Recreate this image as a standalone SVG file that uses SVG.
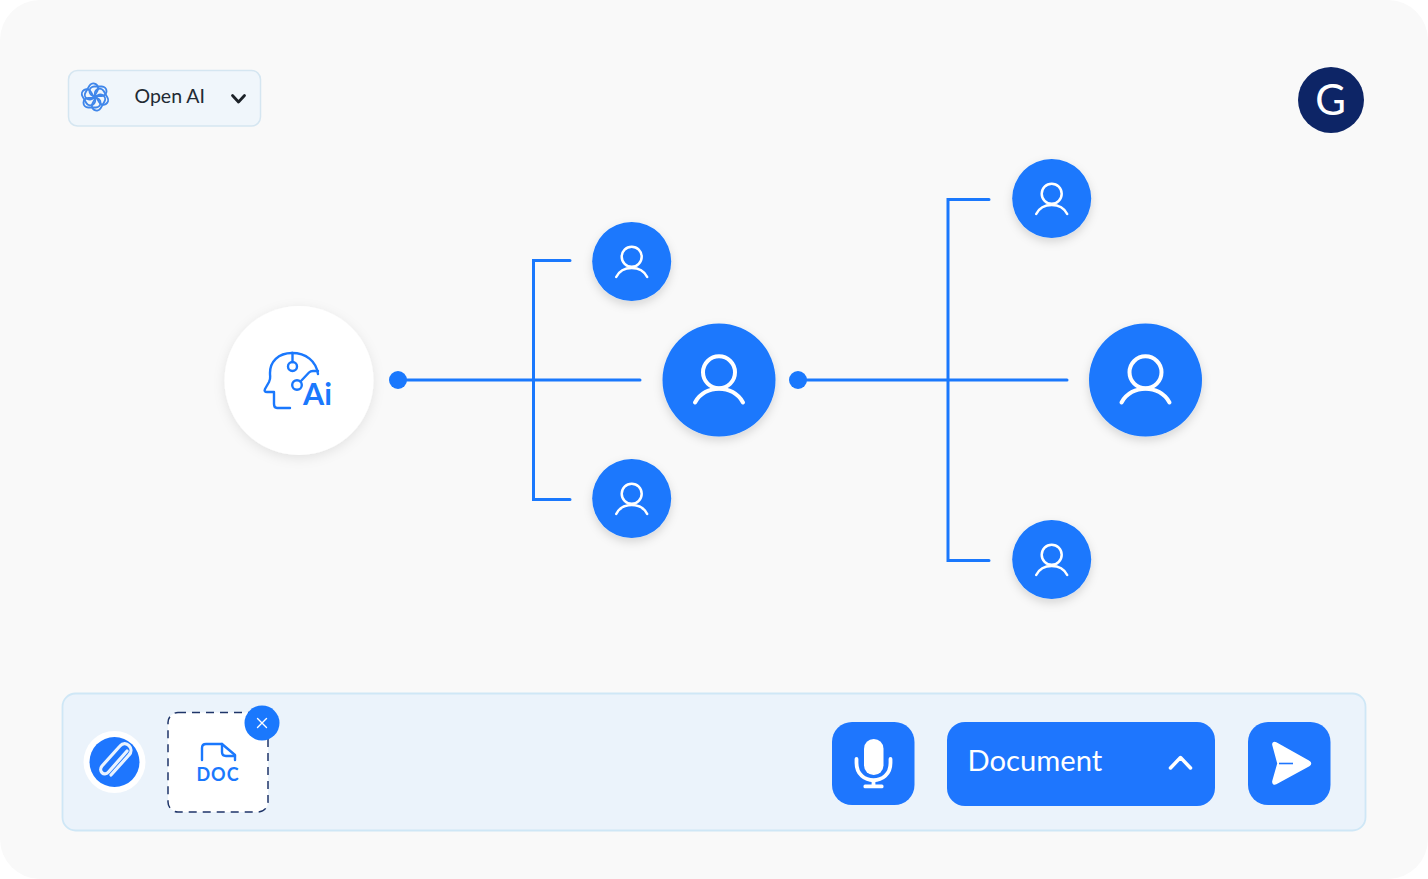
<svg xmlns="http://www.w3.org/2000/svg" width="1428" height="879" viewBox="0 0 1428 879">
<style>
.line{fill:none;stroke:#1a78fd;stroke-width:3;stroke-linecap:round;stroke-linejoin:miter}
.dot{fill:#1a78fd}
.pers{fill:#1a78fd;filter:url(#sh)}
.ic{fill:none;stroke:#fff;stroke-linecap:round}
.bl{fill:none;stroke:#1a78fd;stroke-width:2.4;stroke-linecap:round;stroke-linejoin:round}
.btn{fill:#1e76fe}
text{font-family:"Lato","Liberation Sans",sans-serif}
</style>
<defs>
<filter id="sh" x="-30%" y="-30%" width="160%" height="160%"><feDropShadow dx="0" dy="4" stdDeviation="5" flood-color="#000" flood-opacity=".14"/></filter>
<filter id="sh2" x="-30%" y="-30%" width="160%" height="160%"><feDropShadow dx="0" dy="3" stdDeviation="6" flood-color="#000" flood-opacity=".09"/></filter>
<g id="ps"><circle cx="0" cy="-4.700" r="10"/><path d="M-15.500 15.500C-9.500 3.500 9.500 3.500 15.500 15.500"/></g>
<g id="pl"><circle cx="0" cy="-7.700" r="16"/><path d="M-24 22.500C-14 4 14 4 24 22.500"/></g>
<rect id="knot" x="-11.500" y="1" width="17" height="9.500" rx="4.700"/>
</defs>
<rect width="1428" height="879" fill="#fff"/>
<rect width="1428" height="879" rx="40" fill="#f9f9f9"/>

<g id="model-select">
<rect x="68.500" y="70.500" width="192" height="55.500" rx="9" fill="#f0f6fb" stroke="#d5e6f1" stroke-width="1.500"/>
<g fill="none" stroke="#3f86ea" stroke-width="1.900" transform="translate(95 97)">
<use href="#knot"/>
<use href="#knot" transform="rotate(60)"/>
<use href="#knot" transform="rotate(120)"/>
<use href="#knot" transform="rotate(180)"/>
<use href="#knot" transform="rotate(240)"/>
<use href="#knot" transform="rotate(300)"/>
</g>
<text x="134.500" y="103" font-size="19.500" fill="#222a33">Open AI</text>
<path d="M232.500 95.500L238.500 102L244.500 95.500" fill="none" stroke="#1c2228" stroke-width="2.800" stroke-linecap="round" stroke-linejoin="round"/>
</g>

<g id="avatar">
<circle cx="1331" cy="100" r="33" fill="#0d2566"/>
<text x="1330.500" y="114.500" font-size="42" fill="#fff" text-anchor="middle">G</text>
</g>

<g id="connectors">
<circle class="dot" cx="398" cy="380" r="9"/>
<path class="line" d="M398 380H640M570 260.500H533.500V499.500H570"/>
<circle class="dot" cx="798" cy="380" r="9"/>
<path class="line" d="M798 380H1067M989 199.500H948V560.500H989"/>
</g>

<g id="ai-node">
<circle cx="299" cy="380.500" r="74.500" fill="#fff" filter="url(#sh2)"/>
<path class="bl" d="M292 353C278 353 270 362 270 373C270 378 271 378 269 382L265 389C264 391 265 392 267 392H274V404C274 407 275 408 277 408H290"/>
<path class="bl" d="M292 353C306 353 316 361 318 374"/>
<path class="bl" d="M292.500 353V362"/>
<circle class="bl" cx="292.500" cy="366.500" r="4.500"/>
<circle class="bl" cx="297" cy="385" r="4.800"/>
<path class="bl" d="M300.500 381.500L309 372.500C310 371.500 311 371 313 371H318"/>
<text x="303" y="404.500" font-size="30.500" font-weight="700" fill="#1a78fd">Ai</text>
</g>

<g id="node-a1"><circle class="pers" cx="631.700" cy="261.500" r="39.500"/><use href="#ps" class="ic" stroke-width="2.500" x="631.700" y="261.500"/></g>
<g id="node-a2"><circle class="pers" cx="631.700" cy="498.500" r="39.500"/><use href="#ps" class="ic" stroke-width="2.500" x="631.700" y="498.500"/></g>
<g id="node-a3"><circle class="pers" cx="719" cy="380" r="56.500"/><use href="#pl" class="ic" stroke-width="4" x="719" y="380"/></g>
<g id="node-b1"><circle class="pers" cx="1051.700" cy="198.500" r="39.500"/><use href="#ps" class="ic" stroke-width="2.500" x="1051.700" y="198.500"/></g>
<g id="node-b2"><circle class="pers" cx="1051.700" cy="559.500" r="39.500"/><use href="#ps" class="ic" stroke-width="2.500" x="1051.700" y="559.500"/></g>
<g id="node-b3"><circle class="pers" cx="1145.500" cy="380" r="56.500"/><use href="#pl" class="ic" stroke-width="4" x="1145.500" y="380"/></g>

<g id="input-bar">
<rect x="62.500" y="693.500" width="1303" height="137" rx="13" fill="#ebf3fb" stroke="#cfe7f6" stroke-width="1.800"/>
</g>

<g id="attach">
<circle cx="114.500" cy="762" r="31" fill="#fff"/>
<circle cx="114.500" cy="762" r="25" fill="#1e76fe"/>
<path d="M127 751L108.500 772C104 777 98 771 102 766L120 746C126 739 135 749 129 755L111 775" fill="none" stroke="#e9f3ff" stroke-width="3.200" stroke-linecap="round" stroke-linejoin="round"/>
</g>

<g id="doc-chip">
<rect x="168" y="712.500" width="100" height="99.500" rx="10" fill="#fff" stroke="#1f3569" stroke-width="1.500" stroke-dasharray="8 6"/>
<path class="bl" d="M202 760V748C202 745.500 203.500 744 206 744H222L235 755V760"/>
<path class="bl" d="M222 744V752C222 755 223 756 226 756H235"/>
<text x="218" y="780.500" font-size="18" font-weight="700" letter-spacing="1" fill="#1a78fd" text-anchor="middle">DOC</text>
<circle cx="262" cy="723" r="17.500" fill="#1a78fd"/>
<path d="M257.500 718.500L266.500 727.500M266.500 718.500L257.500 727.500" stroke="#fff" stroke-width="1.400" stroke-linecap="round"/>
</g>

<g id="mic-button">
<rect class="btn" x="832" y="722" width="82.500" height="83" rx="20"/>
<rect x="864" y="739" width="19.500" height="36" rx="9.700" fill="#fff"/>
<path d="M856.500 759V763C856.500 786 890.500 786 890.500 763V759" fill="none" stroke="#fff" stroke-width="3.800" stroke-linecap="round"/>
<path d="M873.500 780V786" stroke="#fff" stroke-width="3.800"/>
<rect x="863.500" y="784.500" width="20" height="3.800" rx="1.500" fill="#fff"/>
</g>

<g id="document-button">
<rect class="btn" x="947" y="722" width="268" height="84" rx="18"/>
<text x="967.500" y="771" font-size="29.200" fill="#fff">Document</text>
<path d="M1170.500 768L1180.500 757.500L1190.500 768" fill="none" stroke="#fff" stroke-width="3.500" stroke-linecap="round" stroke-linejoin="round"/>
</g>

<g id="send-button">
<rect class="btn" x="1248" y="722" width="82.500" height="83" rx="20"/>
<path d="M1273 745C1272.500 743 1274 742 1276 743L1309 761.500C1311 762.500 1311 764.500 1309 765.500L1276 783.500C1274 784.500 1272.500 783.500 1273 781L1278 763.500Z" fill="#fff" stroke="#fff" stroke-width="1.500" stroke-linejoin="round"/>
<path d="M1279 763.500H1293" stroke="#1e76fe" stroke-width="1.600"/>
</g>
</svg>
